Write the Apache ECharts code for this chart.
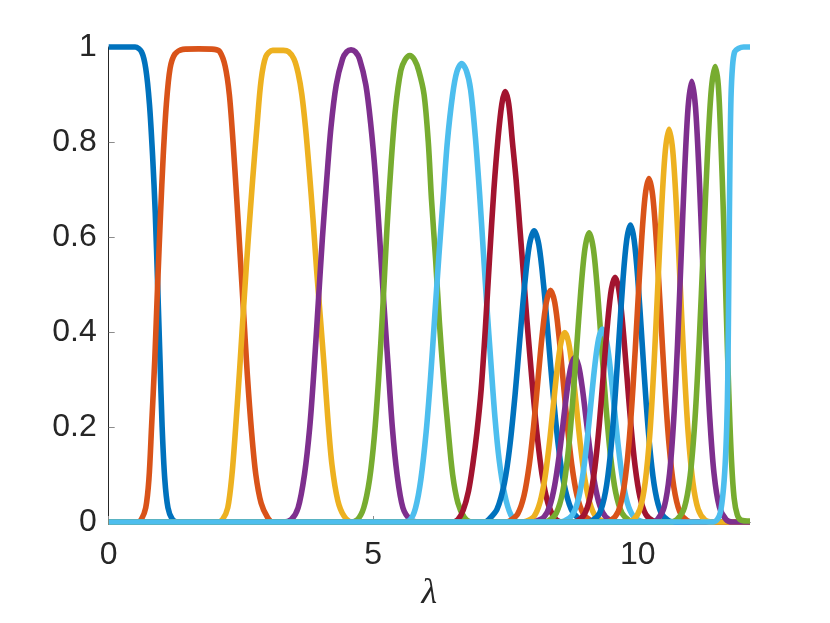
<!DOCTYPE html>
<html>
<head>
<meta charset="utf-8">
<script src="https://cdn.jsdelivr.net/npm/echarts@6/dist/echarts.min.js"></script>
<style>
html,body{margin:0;padding:0;background:#fff;}
#chart{width:830px;height:623px;}
</style>
</head>
<body>
<div id="chart"></div>
<script>
// ---- data ----
const xTicks = [0, 5, 10];
const yTicks = [0, 0.2, 0.4, 0.6, 0.8, 1];
const xMax = 12.12;
const colors = ['#0072BD', '#D95319', '#EDB120', '#7E2F8E', '#77AC30', '#4DBEEE', '#A2142F'];

const c01x = [0, 0.5, 0.62, 0.7, 0.77, 0.83, 0.88, 0.925, 0.97, 1.01, 1.06, 1.12, 1.2, 1.3, 12.12];
const c01y = [1, 1, 0.99, 0.955, 0.88, 0.77, 0.65, 0.5, 0.34, 0.2, 0.09, 0.03, 0.006, 0, 0];

const c02x = [0, 0.55, 0.62, 0.7, 0.76, 0.81, 0.87, 0.925, 0.98, 1.03, 1.09, 1.16, 1.25, 1.4, 1.7, 2.0, 2.1, 2.2, 2.28, 2.35, 2.42, 2.48, 2.55, 2.62, 2.7, 2.78, 2.88, 3.0, 3.1, 12.12];
const c02y = [0, 0, 0.006, 0.03, 0.09, 0.2, 0.34, 0.5, 0.65, 0.77, 0.88, 0.955, 0.985, 0.995, 0.996, 0.995, 0.99, 0.96, 0.9, 0.8, 0.68, 0.57, 0.44, 0.31, 0.19, 0.1, 0.04, 0.01, 0, 0];

const c03x = [0, 2.05, 2.15, 2.25, 2.33, 2.4, 2.48, 2.56, 2.64, 2.72, 2.8, 2.88, 2.97, 3.1, 3.3, 3.4, 3.5, 3.58, 3.65, 3.72, 3.79, 3.86, 3.93, 4.0, 4.07, 4.14, 4.22, 4.33, 4.45, 4.6, 12.12];
const c03y = [0, 0, 0.005, 0.03, 0.1, 0.2, 0.33, 0.47, 0.6, 0.72, 0.83, 0.93, 0.98, 0.993, 0.993, 0.99, 0.975, 0.945, 0.9, 0.83, 0.74, 0.64, 0.53, 0.43, 0.33, 0.22, 0.12, 0.045, 0.012, 0, 0];

const c04x = [0, 3.3, 3.45, 3.58, 3.7, 3.8, 3.88, 3.96, 4.04, 4.12, 4.2, 4.3, 4.42, 4.5, 4.58, 4.66, 4.74, 4.86, 4.95, 5.04, 5.12, 5.2, 5.28, 5.36, 5.45, 5.56, 5.7, 5.85, 12.12];
const c04y = [0, 0, 0.005, 0.03, 0.1, 0.2, 0.32, 0.46, 0.6, 0.72, 0.83, 0.92, 0.975, 0.99, 0.994, 0.99, 0.975, 0.92, 0.84, 0.73, 0.6, 0.46, 0.33, 0.2, 0.1, 0.03, 0.005, 0, 0];

const c05x = [0, 4.55, 4.7, 4.82, 4.93, 5.02, 5.1, 5.18, 5.26, 5.34, 5.42, 5.52, 5.6, 5.69, 5.78, 5.86, 5.96, 6.04, 6.1, 6.18, 6.25, 6.33, 6.41, 6.5, 6.6, 6.72, 6.85, 12.12];
const c05y = [0, 0, 0.005, 0.03, 0.09, 0.18, 0.3, 0.45, 0.62, 0.76, 0.87, 0.95, 0.973, 0.982, 0.973, 0.95, 0.9, 0.8, 0.68, 0.55, 0.42, 0.3, 0.2, 0.1, 0.04, 0.01, 0, 0];

const c06x = [0, 5.55, 5.7, 5.8, 5.9, 6.0, 6.08, 6.16, 6.24, 6.32, 6.4, 6.5, 6.58, 6.67, 6.76, 6.84, 6.93, 7.01, 7.08, 7.15, 7.22, 7.3, 7.38, 7.48, 7.6, 7.75, 12.12];
const c06y = [0, 0, 0.005, 0.03, 0.09, 0.19, 0.3, 0.43, 0.56, 0.68, 0.8, 0.9, 0.948, 0.965, 0.95, 0.91, 0.81, 0.69, 0.57, 0.45, 0.34, 0.22, 0.13, 0.06, 0.015, 0, 0];

const c07x = [0, 6.5, 6.6, 6.7, 6.8, 6.88, 6.96, 7.04, 7.12, 7.2, 7.28, 7.36, 7.43, 7.49, 7.56, 7.63, 7.7, 7.77, 7.84, 7.9, 7.96, 8.03, 8.1, 8.19, 8.3, 8.42, 8.55, 12.12];
const c07y = [0, 0, 0.005, 0.025, 0.065, 0.12, 0.19, 0.28, 0.41, 0.56, 0.7, 0.81, 0.88, 0.906, 0.88, 0.8, 0.72, 0.62, 0.52, 0.43, 0.35, 0.26, 0.18, 0.1, 0.04, 0.01, 0, 0];

const c08x = [0, 7.1, 7.19, 7.34, 7.48, 7.58, 7.68, 7.77, 7.86, 7.95, 8.04, 8.13, 8.22, 8.31, 8.4, 8.5, 8.6, 8.74, 8.89, 9.0, 12.12];
const c08y = [0, 0, 0.006, 0.027, 0.083, 0.159, 0.268, 0.385, 0.498, 0.583, 0.613, 0.583, 0.498, 0.385, 0.268, 0.159, 0.083, 0.027, 0.006, 0, 0];

const c09x = [0, 7.5, 7.59, 7.73, 7.85, 7.95, 8.03, 8.11, 8.19, 8.27, 8.35, 8.43, 8.51, 8.59, 8.67, 8.75, 8.85, 8.97, 9.11, 9.25, 12.12];
const c09y = [0, 0, 0.003, 0.017, 0.056, 0.122, 0.201, 0.296, 0.391, 0.462, 0.488, 0.462, 0.391, 0.296, 0.201, 0.122, 0.056, 0.017, 0.003, 0, 0];

const c10x = [0, 7.8, 7.9, 8.04, 8.15, 8.24, 8.32, 8.4, 8.48, 8.55, 8.62, 8.69, 8.76, 8.84, 8.92, 9.0, 9.09, 9.2, 9.34, 9.45, 12.12];
const c10y = [0, 0, 0.002, 0.012, 0.041, 0.09, 0.157, 0.242, 0.326, 0.379, 0.399, 0.379, 0.326, 0.242, 0.157, 0.09, 0.041, 0.012, 0.002, 0, 0];

const c11x = [0, 8.0, 8.09, 8.23, 8.34, 8.43, 8.51, 8.59, 8.67, 8.74, 8.81, 8.88, 8.95, 9.03, 9.11, 9.19, 9.28, 9.39, 9.53, 9.65, 12.12];
const c11y = [0, 0, 0.002, 0.011, 0.035, 0.078, 0.137, 0.21, 0.283, 0.329, 0.346, 0.329, 0.283, 0.21, 0.137, 0.078, 0.035, 0.011, 0.002, 0, 0];

const c12x = [0, 8.2, 8.32, 8.46, 8.58, 8.68, 8.76, 8.84, 8.92, 9.0, 9.08, 9.16, 9.24, 9.32, 9.4, 9.48, 9.58, 9.7, 9.84, 9.95, 12.12];
const c12y = [0, 0, 0.003, 0.019, 0.063, 0.143, 0.241, 0.361, 0.483, 0.575, 0.609, 0.575, 0.483, 0.361, 0.241, 0.143, 0.063, 0.019, 0.003, 0, 0];

const c13x = [0, 8.5, 8.61, 8.75, 8.86, 8.95, 9.03, 9.11, 9.19, 9.26, 9.33, 9.4, 9.47, 9.55, 9.63, 9.71, 9.8, 9.91, 10.05, 10.15, 12.12];
const c13y = [0, 0, 0.002, 0.013, 0.041, 0.091, 0.16, 0.246, 0.332, 0.386, 0.406, 0.386, 0.332, 0.246, 0.16, 0.091, 0.041, 0.013, 0.002, 0, 0];

const c14x = [0, 8.75, 8.85, 8.99, 9.1, 9.19, 9.27, 9.35, 9.43, 9.5, 9.57, 9.64, 9.71, 9.79, 9.87, 9.95, 10.04, 10.15, 10.29, 10.4, 12.12];
const c14y = [0, 0, 0.002, 0.016, 0.053, 0.116, 0.203, 0.313, 0.421, 0.49, 0.515, 0.49, 0.421, 0.313, 0.203, 0.116, 0.053, 0.016, 0.002, 0, 0];

const c15x = [0, 9.0, 9.14, 9.28, 9.39, 9.48, 9.56, 9.64, 9.72, 9.79, 9.86, 9.93, 10.0, 10.08, 10.16, 10.24, 10.33, 10.44, 10.58, 10.7, 12.12];
const c15y = [0, 0, 0.003, 0.019, 0.064, 0.141, 0.247, 0.379, 0.511, 0.594, 0.625, 0.594, 0.511, 0.379, 0.247, 0.141, 0.064, 0.019, 0.003, 0, 0];

const c16x = [0, 9.35, 9.49, 9.63, 9.74, 9.83, 9.91, 9.99, 10.07, 10.14, 10.21, 10.28, 10.35, 10.43, 10.51, 10.59, 10.68, 10.79, 10.93, 11.05, 12.12];
const c16y = [0, 0, 0.003, 0.022, 0.074, 0.163, 0.286, 0.439, 0.591, 0.688, 0.723, 0.688, 0.591, 0.439, 0.286, 0.163, 0.074, 0.022, 0.003, 0, 0];

const c17x = [0, 9.78, 9.91, 10.04, 10.14, 10.23, 10.31, 10.38, 10.45, 10.52, 10.59, 10.66, 10.73, 10.8, 10.87, 10.95, 11.04, 11.14, 11.27, 11.4, 12.12];
const c17y = [0, 0, 0.004, 0.027, 0.084, 0.19, 0.34, 0.502, 0.662, 0.782, 0.827, 0.782, 0.662, 0.502, 0.34, 0.19, 0.084, 0.027, 0.004, 0, 0];

const c18x = [0, 10.25, 10.37, 10.5, 10.6, 10.68, 10.75, 10.82, 10.88, 10.95, 11.02, 11.09, 11.16, 11.22, 11.29, 11.36, 11.44, 11.54, 11.67, 11.79, 12.12];
const c18y = [0, 0, 0.005, 0.032, 0.102, 0.219, 0.373, 0.563, 0.727, 0.873, 0.928, 0.873, 0.727, 0.563, 0.373, 0.219, 0.102, 0.032, 0.005, 0, 0];

const c19x = [0, 10.6, 10.74, 10.88, 10.99, 11.08, 11.16, 11.24, 11.32, 11.39, 11.46, 11.52, 11.57, 11.62, 11.67, 11.72, 11.77, 11.82, 11.88, 11.95, 12.12];
const c19y = [0, 0, 0.005, 0.03, 0.098, 0.216, 0.379, 0.582, 0.784, 0.912, 0.959, 0.92, 0.8, 0.64, 0.45, 0.27, 0.13, 0.05, 0.015, 0.004, 0.002];

const c20x = [0, 11.42, 11.5, 11.56, 11.61, 11.65, 11.68, 11.7, 11.72, 11.74, 11.76, 11.79, 11.83, 11.9, 12.0, 12.12];
const c20y = [0, 0, 0.005, 0.02, 0.06, 0.12, 0.2, 0.3, 0.52, 0.75, 0.89, 0.96, 0.99, 0.997, 1, 1];

const curves = [
  [c01x, c01y], [c02x, c02y], [c03x, c03y], [c04x, c04y], [c05x, c05y],
  [c06x, c06y], [c07x, c07y], [c08x, c08y], [c09x, c09y], [c10x, c10y],
  [c11x, c11y], [c12x, c12y], [c13x, c13y], [c14x, c14y], [c15x, c15y],
  [c16x, c16y], [c17x, c17y], [c18x, c18y], [c19x, c19y], [c20x, c20y]
];

// ---- chart ----
const chart = echarts.init(document.getElementById('chart'), null, {renderer: 'canvas'});
const labelFont = {fontFamily: '"Liberation Sans", Arial, Helvetica, sans-serif', fontSize: 32, color: '#262626'};

const series = curves.map((c, i) => ({
  type: 'line',
  data: c[0].map((x, j) => [x, c[1][j]]),
  showSymbol: false,
  smooth: 0.3,
  clip: false,
  z: 2,
  lineStyle: {width: 5.6, color: colors[i % colors.length], cap: 'butt', join: 'round'},
  emphasis: {disabled: true}
}));

chart.setOption({
  animation: false,
  backgroundColor: '#fff',
  grid: {left: 108.7, right: 80, top: 47, bottom: 101, containLabel: false},
  xAxis: {
    type: 'value', min: xTicks[0], max: xMax, interval: xTicks[1] - xTicks[0],
    name: 'λ', nameLocation: 'middle', nameGap: 52,
    nameTextStyle: {fontFamily: '"Liberation Serif", "Times New Roman", serif', fontStyle: 'italic', fontSize: 36, color: '#262626'},
    axisLine: {show: true, lineStyle: {color: '#262626', width: 1}},
    axisTick: {show: true, inside: true, length: 6, lineStyle: {color: '#8c8c8c'}},
    axisLabel: Object.assign({margin: 17, showMaxLabel: false, formatter: v => xTicks.includes(v) ? String(v) : ''}, labelFont),
    splitLine: {show: false}
  },
  yAxis: {
    type: 'value', min: yTicks[0], max: yTicks[yTicks.length - 1], interval: yTicks[1] - yTicks[0],
    axisLine: {show: true, lineStyle: {color: '#262626', width: 1}},
    axisTick: {show: true, inside: true, length: 6, lineStyle: {color: '#8c8c8c'}},
    axisLabel: Object.assign({margin: 12}, labelFont),
    splitLine: {show: false}
  },
  series: series
});
</script>
</body>
</html>
